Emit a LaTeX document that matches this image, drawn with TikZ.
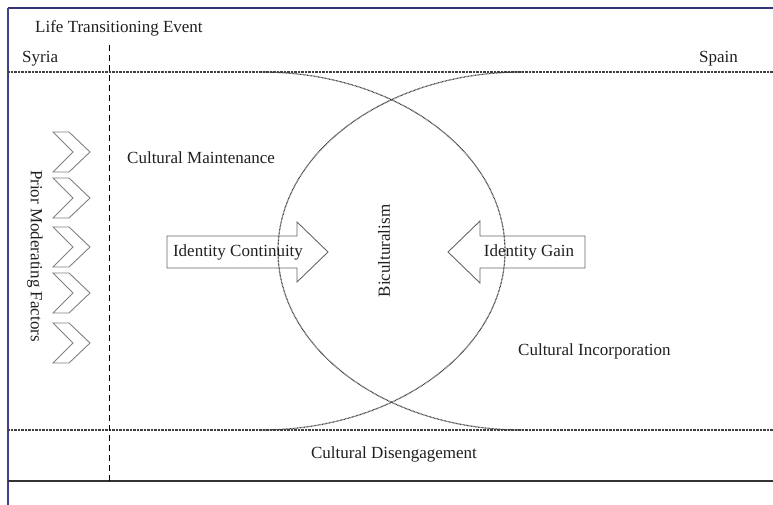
\documentclass[tikz,border=0pt]{standalone}
\usepackage{fontspec}
\setmainfont{Liberation Serif}
\begin{document}
\begin{tikzpicture}[x=1pt,y=-1pt,
  txt/.style={font=\fontsize{17}{20}\selectfont, text=black!88, inner sep=0pt},
  dotline/.style={draw=black!75, line width=1.2pt, dash pattern=on 0.8pt off 0.6pt},
  divider/.style={draw=black, line width=1pt, dash pattern=on 6pt off 4pt},
  framebar/.style={draw=black!55!blue!60!gray, line width=1.8pt},
  frameside/.style={draw=black!40!blue!50!gray, line width=1.2pt},
  baseline rule/.style={draw=black!80, line width=1.8pt},
  blockarrow/.style={draw=black!60, line width=0.9pt},
  chevron/.style={draw=black!50, line width=0.9pt, line join=miter}]
\useasboundingbox (0,0) rectangle (773,505);

% outer frame
\coordinate (ftl) at (8,8);
\coordinate (ftr) at (773,8);
\coordinate (fbl) at (8,505);
\coordinate (bl) at (8,481);
\coordinate (br) at (773,481);
\draw[framebar] (ftl) -- (ftr);
\draw[frameside] (ftl) -- (fbl);
\draw[baseline rule] (bl) -- (br);

% dotted horizontal bands
\coordinate (tl) at (8,72);
\coordinate (tr) at (773,72);
\coordinate (ul) at (8,430);
\coordinate (ur) at (773,430);
\draw[dotline] (tl) -- (tr);
\draw[dotline] (ul) -- (ur);

% Syria | Spain divider
\coordinate (dtop) at (109,45);
\coordinate (dbot) at (109,481);
\draw[divider] (dtop) -- (dbot);

% the two overlapping cultural domains
\coordinate (lstart) at (261,72);
\coordinate (rstart) at (522,72);
\draw[dotline] (lstart) arc[start angle=-90, end angle=90, x radius=244, y radius=179];
\draw[dotline] (rstart) arc[start angle=270, end angle=90, x radius=244, y radius=179];

% texts
\node[txt, anchor=base west] (event) at (35,33) {Life Transitioning Event};
\node[txt, anchor=base west] (syria) at (22,63) {Syria};
\node[txt, anchor=base east] (spain) at (738,63) {Spain};
\node[txt, anchor=base west] (maint) at (127,164) {Cultural Maintenance};
\node[txt, anchor=base west] (incorp) at (518,355) {Cultural Incorporation};
\node[txt, anchor=base] (diseng) at (394,458) {Cultural Disengagement};
\node[txt, rotate=90] (bicult) at (384,251) {Biculturalism};
\node[txt, rotate=-90] (prior) at (35,256) {Prior Moderating Factors};

% prior moderating factor chevrons
\foreach \cy [count=\i] in {152,198,247,293,343}{
  \draw[chevron] (53,\cy-20) -- (69,\cy-20) -- (90,\cy) -- (69,\cy+20)
    -- (53,\cy+20) -- (73,\cy) -- cycle;
}

% block arrows
\draw[blockarrow] (167,236) -- (297,236) -- (297,222) -- (328,252)
  -- (297,282) -- (297,268) -- (167,268) -- cycle;
\node[txt] (cont) at (238,252) {Identity Continuity};
\draw[blockarrow] (585,236) -- (480,236) -- (480,221) -- (448,252)
  -- (480,283) -- (480,268) -- (585,268) -- cycle;
\node[txt] (gain) at (529,252) {Identity Gain};
\end{tikzpicture}
\end{document}
